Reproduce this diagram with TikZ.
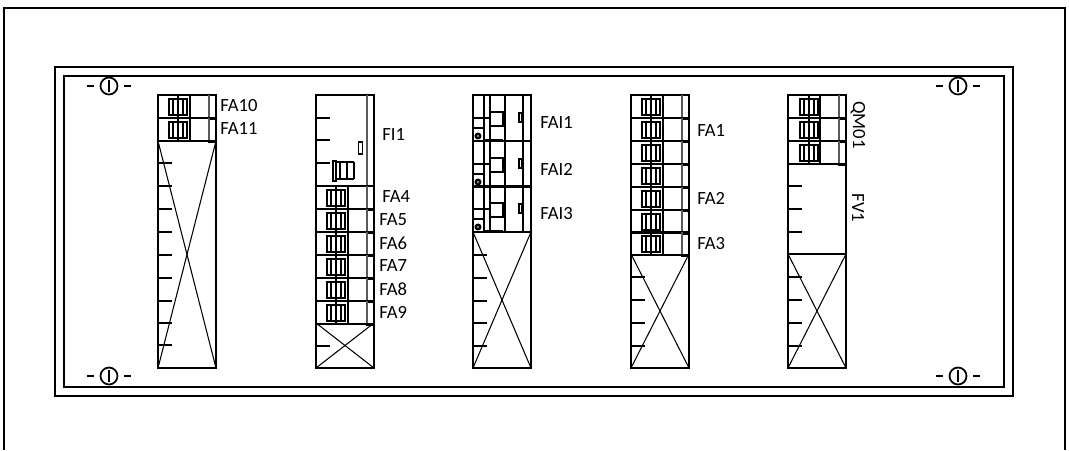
\documentclass[tikz,border=0pt]{standalone}
\usepackage{fontspec}
\setmainfont{Carlito}
\tikzset{
  heavy/.style={line width=1.4pt},
  medium/.style={line width=1pt},
  light/.style={line width=0.6pt},
  tag/.style={font=\fontsize{10.6pt}{12pt}\selectfont,inner sep=0pt,anchor=west},
  tagrot/.style={font=\fontsize{10.6pt}{12pt}\selectfont,inner sep=0pt,rotate=-90}
}
% #1 left edge, #2 top of row, #3 glyph offset
\newcommand{\breakerrow}[3]{
  \draw[medium] (#1,#2) rectangle (#1+58,#2+23);
  \draw[medium] (#1+32,#2) -- (#1+32,#2+23);
  \draw[medium] (#1+#3+9,#2) -- (#1+#3+9,#2+23);
  \draw[heavy,black!65] (#1+51,#2) -- (#1+51,#2+23);
  \draw[heavy] (#1+58,#2) -- (#1+58,#2+23);
  \fill (#1+50,#2+21.5) rectangle (#1+59,#2+24.5);
  \draw[heavy] (#1+#3,#2+4) rectangle (#1+#3+18,#2+20);
  \draw[medium] (#1+#3+4,#2+4) -- (#1+#3+4,#2+20);
  \draw[light] (#1+#3+14,#2+4) -- (#1+#3+14,#2+20);
}
% #1 left edge, #2 top of row
\newcommand{\triprow}[2]{
  \draw[medium] (#1,#2) rectangle (#1+58,#2+46);
  \draw[medium] (#1+11,#2) -- (#1+11,#2+46);
  \draw[medium] (#1+17,#2) -- (#1+17,#2+46);
  \draw[medium] (#1+32,#2) -- (#1+32,#2+46);
  \draw[medium] (#1+50,#2) -- (#1+50,#2+46);
  \draw[medium] (#1+17,#2+17) rectangle (#1+30,#2+31);
  \draw[heavy] (#1,#2+23) -- (#1+16,#2+23);
  \draw[medium] (#1,#2+33) -- (#1+11,#2+33);
  \draw[heavy] (#1+46,#2+18) rectangle (#1+49,#2+27);
  \draw[heavy] (#1+5,#2+41) circle [radius=2.2];
  \draw[line width=2.2pt] (#1+11,#2+45.5) -- (#1+30,#2+45.5);
}
% #1 centre x, #2 centre y
\newcommand{\screw}[2]{
  \draw[medium] (#1,#2) circle [radius=8.5];
  \draw[medium] (#1,#2-6) -- (#1,#2+6);
  \draw[medium] (#1-22,#2) -- (#1-15,#2);
  \draw[medium] (#1+15,#2) -- (#1+22,#2);
}
\begin{document}
\begin{tikzpicture}[x=0.02cm,y=-0.02cm]
    \useasboundingbox (0,0) rectangle (1069,450);

    % frames
    \draw[medium] (4,450)--(4,8)--(1065,8)--(1065,450);
    \draw[medium] (55,67) rectangle (1013,396);
    \draw[medium] (64,76) rectangle (1004,387);

    \screw{109}{86}
    \screw{958}{86}
    \screw{109}{376}
    \screw{958}{376}

    % module columns
    \foreach \px/\ytop/\ybot in {158/141/368,316/323/368,473/232/368,631/254/368,788/254/368}{
        \draw[heavy] (\px,95) rectangle (\px+58,\ybot);
        \draw[light] (\px,\ytop) -- (\px+58,\ybot);
        \draw[light] (\px+58,\ytop) -- (\px,\ybot);
    }

    % first column
    \foreach \yrow in {95,118}
        \breakerrow{158}{\yrow}{11}
    \foreach \ytick in {163,186,209,232,255,278,301,323,345}
        \draw[medium] (158,\ytick) -- (172,\ytick);
    \node[tag] (fa10) at (220,106) {FA10};
    \node[tag] (fa11) at (220,129) {FA11};

    % second column
    \draw[heavy,black!65] (367,95) -- (367,186);
    \draw[heavy] (374,95) -- (374,186);
    \foreach \yrow in {186,209,232,255,278,301}
        \breakerrow{316}{\yrow}{11}
    \foreach \ytick in {118,140,163,346}
        \draw[medium] (316,\ytick) -- (330,\ytick);
    \draw[medium] (358.5,142) rectangle (362.5,154);
    \draw[heavy] (333,161) rectangle (336,181);
    \draw[heavy] (336,162) -- (354,162);
    \draw[heavy] (336,179) -- (354,179);
    \draw[medium] (340,162) -- (340,179);
    \draw[medium] (347,162) -- (347,179);
    \draw[medium] (354,162) -- (354,179);
    \node[tag] (fi1) at (382,135) {FI1};
    \node[tag] (fa4) at (382,197) {FA4};
    \node[tag] (fa5) at (379,220) {FA5};
    \node[tag] (fa6) at (379,243) {FA6};
    \node[tag] (fa7) at (379,266) {FA7};
    \node[tag] (fa8) at (379,289) {FA8};
    \node[tag] (fa9) at (379,312) {FA9};

    % third column
    \foreach \yrow in {95,141,186}
        \triprow{473}{\yrow}
    \foreach \ytick in {255,278,301,323,346}
        \draw[medium] (473,\ytick) -- (487,\ytick);
    \node[tag] (fai1) at (540,123) {FAI1};
    \node[tag] (fai2) at (540,169) {FAI2};
    \node[tag] (fai3) at (540,214) {FAI3};

    % fourth column
    \foreach \yrow in {95,118,141,164,187,210,232}
        \breakerrow{631}{\yrow}{11}
    \foreach \ytick in {277,300,323,346}
        \draw[medium] (631,\ytick) -- (645,\ytick);
    \node[tag] (fa1) at (697,131) {FA1};
    \node[tag] (fa2) at (697,198) {FA2};
    \node[tag] (fa3) at (697,244) {FA3};

    % fifth column
    \foreach \yrow in {95,118,141}
        \breakerrow{788}{\yrow}{12}
    \draw[heavy] (788,254) -- (846,254);
    \foreach \ytick in {186,209,232,277,300,323,346}
        \draw[medium] (788,\ytick) -- (802,\ytick);
    \node[tagrot] (qm01) at (858,125) {QM01};
    \node[tagrot] (fv1) at (858,208) {FV1};
\end{tikzpicture}
\end{document}
